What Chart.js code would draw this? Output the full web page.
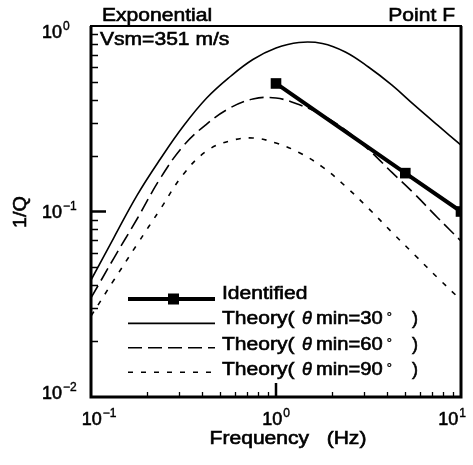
<!DOCTYPE html>
<html><head><meta charset="utf-8">
<script src="https://cdn.jsdelivr.net/npm/chart.js@4/dist/chart.umd.min.js"></script>
<style>html,body{margin:0;padding:0;background:#fff;}#wrap{width:473px;height:465px;}</style>
</head><body><div id="wrap"><canvas id="c" width="473" height="465"></canvas></div>
<script>
// ---- data ----
const identifiedFreq = [1, 5, 10];
const identifiedQ    = [0.49, 0.161, 0.1];

// theory curves, read at 1/8-decade frequency steps
const theoryFreq = [0.1, 0.133, 0.178, 0.237, 0.316, 0.422, 0.562, 0.75, 1, 1.33, 1.78, 2.37, 3.16, 4.22, 5.62, 7.5, 10];
const theory30Q  = [0.0427, 0.0724, 0.123, 0.192, 0.289, 0.409, 0.531, 0.660, 0.761, 0.815, 0.805, 0.724, 0.601, 0.481, 0.373, 0.291, 0.228];
const theory60Q  = [0.0342, 0.0561, 0.0917, 0.151, 0.226, 0.296, 0.361, 0.404, 0.409, 0.377, 0.331, 0.275, 0.216, 0.163, 0.124, 0.0923, 0.0693];
const theory90Q  = [0.0273, 0.0427, 0.0668, 0.103, 0.159, 0.212, 0.240, 0.249, 0.234, 0.208, 0.174, 0.137, 0.104, 0.0775, 0.0583, 0.0438, 0.0333];

const seriesNames = ['Identified', '30', '60', '90'];
const xTickValues = [0.1, 1, 10];
const xTickExps   = ['\u22121', '0', '1'];
const yTickValues = [1, 0.1, 0.01];
const yTickExps   = ['0', '\u22121', '\u22122'];
const titleLeft = 'Exponential';
const titleRight = 'Point F';
const noteText = 'Vsm=351 m/s';
const xTitle = 'Frequency   (Hz)';
const yTitle = '1/Q';

const FONT = "'Liberation Sans', Arial, Helvetica, sans-serif";
const SX = 1.17;
const pts = (xs, ys) => xs.map((x, i) => ({x: x, y: ys[i]}));

function txt(ctx, s, x, y, size, opts) {
  opts = opts || {};
  ctx.save();
  ctx.font = (opts.italic ? 'italic ' : '') + size + 'px ' + FONT;
  ctx.textAlign = opts.align || 'left';
  ctx.textBaseline = 'alphabetic';
  ctx.fillStyle = '#000';
  ctx.strokeStyle = '#000';
  ctx.lineWidth = opts.bold !== undefined ? opts.bold : 0.6;
  ctx.translate(x, y);
  ctx.scale(opts.sx !== undefined ? opts.sx : SX, 1);
  ctx.fillText(s, 0, 0);
  if (ctx.lineWidth > 0) ctx.strokeText(s, 0, 0);
  ctx.restore();
}
function pow10Width(ctx, exp) {
  ctx.font = '18px ' + FONT; const a = ctx.measureText('10').width;
  ctx.font = '12px ' + FONT; const b = ctx.measureText(exp).width;
  return [a, b];
}
function drawPow10(ctx, exp, x, baseline) {
  const [a, b] = pow10Width(ctx, exp);
  txt(ctx, '10', x, baseline, 18, {sx: 1});
  txt(ctx, exp, x + a + 1, baseline - 8, 12, {sx: 1, bold: 0.4});
}

const decor = {
  id: 'decor',
  afterDraw(chart) {
    const ctx = chart.ctx, xs = chart.scales.x, ys = chart.scales.y, a = chart.chartArea;
    ctx.save();
    ctx.strokeStyle = '#000';
    // minor / major ticks (inside)
    ctx.lineWidth = 1.3;
    ctx.beginPath();
    for (let d = -1; d <= 0; d++) {
      for (let m = 2; m <= 9; m++) {
        const px = Math.round(xs.getPixelForValue(m * Math.pow(10, d))) + 0.5;
        ctx.moveTo(px, a.bottom); ctx.lineTo(px, a.bottom - 5);
      }
    }
    for (let d = -2; d <= -1; d++) {
      for (let m = 2; m <= 9; m++) {
        const py = Math.round(ys.getPixelForValue(m * Math.pow(10, d))) + 0.5;
        ctx.moveTo(a.left, py); ctx.lineTo(a.left + 7, py);
      }
    }
    ctx.stroke();
    ctx.lineWidth = 2.5;
    ctx.beginPath();
    const p1 = xs.getPixelForValue(1);
    ctx.moveTo(p1, a.bottom); ctx.lineTo(p1, a.bottom - 14);
    const q1 = ys.getPixelForValue(0.1);
    ctx.moveTo(a.left, q1); ctx.lineTo(a.left + 15, q1);
    ctx.stroke();
    // frame
    ctx.lineWidth = 2;
    ctx.strokeRect(a.left, a.top, a.right - a.left, a.bottom - a.top);
    ctx.lineWidth = 3;
    ctx.beginPath();
    ctx.moveTo(a.left, a.top); ctx.lineTo(a.left, a.bottom); ctx.lineTo(a.right, a.bottom); ctx.lineTo(a.right, a.top);
    ctx.stroke();

    // tick labels
    xTickValues.forEach((v, i) => {
      const [w1, w2] = pow10Width(ctx, xTickExps[i]);
      const w = w1 + w2 + 1;
      let c = xs.getPixelForValue(v);
      c = Math.min(Math.max(c, 99), 452);
      drawPow10(ctx, xTickExps[i], c - w / 2, 425);
    });
    yTickValues.forEach((v, i) => {
      let c = ys.getPixelForValue(v);
      c = Math.min(Math.max(c, 31), 392);
      drawPow10(ctx, yTickExps[i], 42, c + 6.5);
    });

    // titles
    txt(ctx, titleLeft, 102, 21, 18);
    txt(ctx, titleRight, 455, 21, 18, {align: 'right'});
    txt(ctx, noteText, 100, 45, 18);
    txt(ctx, xTitle, 288, 444, 18, {align: 'center'});
    ctx.save();
    ctx.translate(26, 212);
    ctx.rotate(-Math.PI / 2);
    txt(ctx, yTitle, 0, 0, 18, {align: 'center', sx: 1.1});
    ctx.restore();

    // legend
    const lx0 = 128, lx1 = 215, tx = 222;
    chart.data.datasets.forEach((ds, i) => {
      const ly = 299 + i * 24.4;
      const tb = 298.5 + i * 25.5;
      ctx.save();
      ctx.strokeStyle = '#000';
      ctx.lineWidth = ds.borderWidth;
      ctx.setLineDash(ds.borderDash || []);
      ctx.beginPath(); ctx.moveTo(lx0, ly); ctx.lineTo(lx1, ly); ctx.stroke();
      ctx.restore();
      if (i === 0) {
        ctx.fillStyle = '#000';
        ctx.fillRect(168, ly - 5.5, 11, 11);
        txt(ctx, seriesNames[0], tx, tb, 18);
      } else {
        txt(ctx, 'Theory(', tx, tb, 18);
        txt(ctx, '\u03B8', tx + 80, tb, 18, {italic: true, sx: 1});
        txt(ctx, 'min=' + seriesNames[i], tx + 94, tb, 18, {sx: 1.12});
        txt(ctx, '\u02DA', tx + 165, tb + 1, 16, {sx: 1, bold: 0.3});
        txt(ctx, ')', tx + 190, tb, 18, {sx: 1});
      }
    });
    ctx.restore();
  }
};

new Chart(document.getElementById('c'), {
  type: 'line',
  data: {
    datasets: [
      { label: seriesNames[0], data: pts(identifiedFreq, identifiedQ), borderColor: '#000', backgroundColor: '#000',
        borderWidth: 4, pointStyle: 'rect', pointRadius: 7.5, pointBorderWidth: 0, tension: 0, clip: 0 },
      { label: seriesNames[1], data: pts(theoryFreq, theory30Q), borderColor: '#000', borderWidth: 1.6,
        pointRadius: 0, tension: 0.4 },
      { label: seriesNames[2], data: pts(theoryFreq, theory60Q), borderColor: '#000', borderWidth: 1.6,
        borderDash: [14, 6], pointRadius: 0, tension: 0.4 },
      { label: seriesNames[3], data: pts(theoryFreq, theory90Q), borderColor: '#000', borderWidth: 1.6,
        borderDash: [5, 8], pointRadius: 0, tension: 0.4 }
    ]
  },
  options: {
    responsive: false, animation: false, devicePixelRatio: 1,
    layout: { padding: { left: 91, top: 26, right: 12, bottom: 68 } },
    plugins: { legend: { display: false }, tooltip: { enabled: false } },
    scales: {
      x: { type: 'logarithmic', min: 0.1, max: 10, display: false },
      y: { type: 'logarithmic', min: 0.01, max: 1, display: false }
    }
  },
  plugins: [decor]
});
</script></body></html>
